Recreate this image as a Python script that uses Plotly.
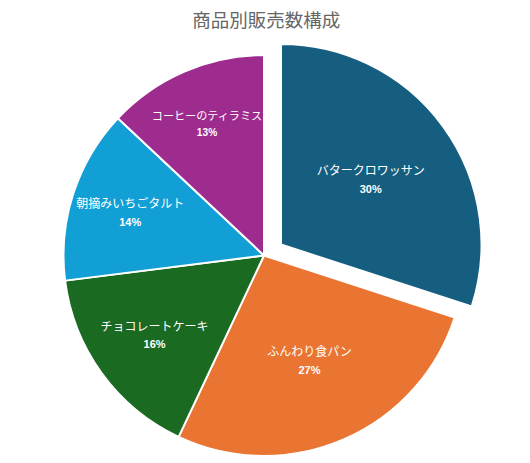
import plotly.graph_objects as go

# 商品別の販売数構成（%）
labels = ["バタークロワッサン", "ふんわり食パン", "チョコレートケーキ", "朝摘みいちごタルト", "コーヒーのティラミス"]
values = [30, 27, 16, 14, 13]
colors = ["#165e80", "#ea7432", "#1b6a22", "#129fd5", "#9e2b8e"]
pulled = [True, False, False, False, False]

W, H = 530, 463
ml, mr, mt, mb = 12, 30, 36, 15
pw, ph = W - ml - mr, H - mt - mb
shift_x, shift_y = 17, 11  # pixel offset of the pulled-out slice

label_tpl = (
    "<span style='font-size:12px'>%{label}</span><br>"
    "<span style='font-size:11px'><b>%{percent:.0%}</b></span>"
)
text_font = dict(color="white", size=13.5, family="Liberation Sans, Noto Sans CJK JP")

fig = go.Figure()

# slices that stay in place
fig.add_trace(
    go.Pie(
        labels=labels,
        values=values,
        sort=False,
        direction="clockwise",
        rotation=0,
        domain=dict(x=[0, 1], y=[0, (ph - shift_y) / ph]),
        marker=dict(
            colors=["rgba(0,0,0,0)" if p else c for p, c in zip(pulled, colors)],
            line=dict(color="white", width=[0 if p else 2 for p in pulled]),
        ),
        texttemplate=["" if p else label_tpl for p in pulled],
        textposition="inside",
        insidetextorientation="horizontal",
        textfont=text_font,
        hovertemplate="%{label}: %{value}<extra></extra>",
        showlegend=False,
    )
)

# pulled-out slice
fig.add_trace(
    go.Pie(
        labels=labels,
        values=values,
        sort=False,
        direction="clockwise",
        rotation=0,
        domain=dict(x=[2 * shift_x / pw, 1], y=[shift_y / ph, 1]),
        marker=dict(
            colors=[c if p else "rgba(0,0,0,0)" for p, c in zip(pulled, colors)],
            line=dict(color="white", width=[2 if p else 0 for p in pulled]),
        ),
        texttemplate=[label_tpl if p else "" for p in pulled],
        textposition="inside",
        insidetextorientation="horizontal",
        textfont=text_font,
        hoverinfo="skip",
        showlegend=False,
    )
)

fig.update_layout(
    title=dict(
        text="商品別販売数構成",
        x=0.4875,
        xanchor="center",
        y=1 - 13 / H,
        yanchor="middle",
        font=dict(size=18.5, color="#666666", family="Liberation Sans, Noto Sans CJK JP"),
    ),
    width=W,
    height=H,
    margin=dict(t=mt, b=mb, l=ml, r=mr),
    showlegend=False,
    paper_bgcolor="white",
    plot_bgcolor="white",
)

fig.write_html("out.html")
